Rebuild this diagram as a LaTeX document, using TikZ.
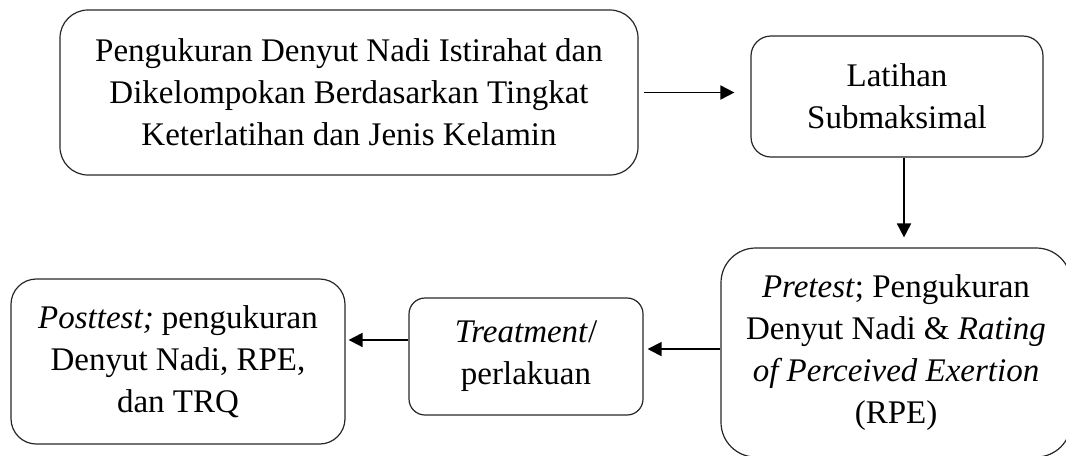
\documentclass[tikz,border=0pt]{standalone}
\usepackage{fontspec}
\setmainfont{Liberation Serif}
\usepackage{tikz}
\usetikzlibrary{arrows.meta}

\begin{document}
\begin{tikzpicture}[x=0.75pt,y=-0.75pt,
                    box/.style={rectangle,draw=black!85,line width=0.9pt,align=center,inner sep=0pt,
                                font=\fontsize{24.75}{31.5}\selectfont},
                    arr/.style={-{Triangle[length=10.5pt,width=10.5pt]},line width=1.35pt}
                ]
    \useasboundingbox (0,0) rectangle (1066,455);
    % boxes
    \node[box,rounded corners=21pt,minimum width=433.5pt,minimum height=123.75pt] (ukur) at (349,92.5)
        {Pengukuran Denyut Nadi Istirahat dan\\Dikelompokan Berdasarkan Tingkat\\Keterlatihan dan Jenis Kelamin};
    \node[box,rounded corners=15pt,minimum width=219pt,minimum height=90.75pt] (latihan) at (897,96.5)
        {Latihan\\Submaksimal};
    \node[box,rounded corners=26pt,minimum width=262.5pt,minimum height=156.75pt] (pretest) at (896,352.5)
        {\textit{Pretest}; Pengukuran\\Denyut Nadi \& \textit{Rating}\\\textit{of Perceived Exertion}\\(RPE)};
    \node[box,rounded corners=12pt,minimum width=175.5pt,minimum height=87.75pt] (treatment) at (526,356.5)
        {\textit{Treatment}/\\perlakuan};
    \node[box,rounded corners=19pt,minimum width=250.5pt,minimum height=123.75pt] (posttest) at (178,361.5)
        {\textit{Posttest;} pengukuran\\Denyut Nadi, RPE,\\dan TRQ};
    % arrows
    \draw[arr,shorten <=3.75pt,shorten >=12pt] (ukur.east) -- (ukur.east -| latihan.west);
    \draw[arr,shorten >=7.5pt] ([xshift=5.25pt]latihan.south) -- ([xshift=5.25pt]latihan.south |- pretest.north);
    \draw[arr,shorten >=3pt] ([yshift=2.6pt]pretest.west) -- ([yshift=2.6pt]pretest.west -| treatment.east);
    \draw[arr,shorten >=2.25pt] ([yshift=12.4pt]treatment.west) -- ([yshift=12.4pt]treatment.west -| posttest.east);
\end{tikzpicture}
\end{document}
